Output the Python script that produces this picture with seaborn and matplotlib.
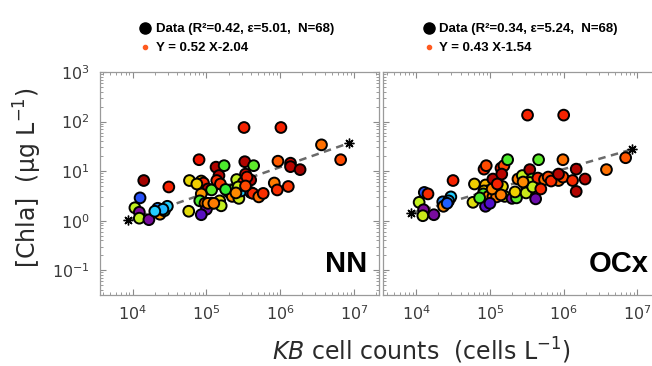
import numpy as np
import pandas as pd
import matplotlib
matplotlib.use("Agg")
import matplotlib.pyplot as plt
from matplotlib.colors import LinearSegmentedColormap
from matplotlib.lines import Line2D
import seaborn as sns

# values (log10 units), colour value 0 = purple ... 1 = dark red
nn_logx = [4.15, 4.49, 4.10, 4.03, 4.09, 4.09, 4.22, 4.34, 4.37, 4.43,
           4.47, 4.41, 4.77, 4.76, 4.90, 4.93, 4.96, 5.02, 5.07, 4.93,
           4.91, 4.98, 5.07, 5.00, 4.93, 5.18, 5.20, 5.13, 5.24, 5.17,
           5.14, 5.19, 5.30, 5.36, 5.35, 5.41, 5.44, 5.47, 5.52, 5.51,
           5.53, 5.53, 5.50, 5.60, 5.64, 5.60, 5.63, 5.71, 5.77, 5.92,
           5.96, 6.11, 5.97, 6.01, 6.14, 6.14, 6.27, 6.56, 6.82, 5.02,
           5.10, 4.87, 5.26, 5.43, 5.55, 5.40, 4.30, 5.53]
nn_logy = [0.81, 0.68, 0.46, 0.26, 0.17, 0.05, 0.02, 0.25, 0.13, 0.20,
           0.29, 0.23, 0.81, 0.19, 1.23, 0.80, 0.76, 0.64, 0.62, 0.54,
           0.40, 0.35, 0.35, 0.23, 0.12, 0.40, 0.30, 1.08, 1.11, 0.91,
           0.81, 0.74, 0.58, 0.62, 0.49, 0.83, 0.45, 0.60, 1.19, 1.88,
           0.94, 0.81, 0.77, 0.82, 1.11, 0.57, 0.55, 0.48, 0.55, 0.76,
           0.62, 0.69, 1.20, 1.88, 1.16, 1.09, 1.03, 1.53, 1.23, 0.35,
           0.35, 0.74, 0.63, 0.68, 0.88, 0.56, 0.19, 0.70]
nn_col = [0.97, 0.86, 0.18, 0.50, 0.02, 0.50, 0.03, 0.24, 0.68, 0.42,
          0.30, 0.28, 0.58, 0.57, 0.88, 0.64, 0.85, 0.95, 0.43, 0.68,
          0.42, 0.72, 0.72, 0.05, 0.08, 0.58, 0.50, 0.96, 0.42, 0.95,
          0.84, 0.83, 0.06, 0.44, 0.70, 0.50, 0.52, 0.30, 0.96, 0.86,
          0.94, 0.45, 0.86, 0.95, 0.43, 0.05, 0.85, 0.74, 0.84, 0.72,
          0.84, 0.83, 0.77, 0.86, 0.94, 0.95, 0.97, 0.74, 0.80, 0.70,
          0.72, 0.60, 0.40, 0.52, 0.85, 0.70, 0.30, 0.80]

ocx_logx = [5.51, 6.00, 4.11, 4.16, 4.04, 4.10, 4.09, 4.24, 4.50, 4.36,
            4.37, 4.47, 4.44, 4.79, 4.77, 4.92, 4.95, 4.94, 4.97, 4.92,
            4.91, 4.98, 5.04, 5.09, 4.94, 5.00, 5.04, 5.15, 5.19, 5.16,
            5.24, 5.17, 5.20, 5.30, 5.36, 5.38, 5.44, 5.50, 5.55, 5.49,
            5.54, 5.57, 5.54, 5.62, 5.66, 5.65, 5.74, 5.79, 5.93, 5.99,
            5.99, 6.12, 6.17, 6.29, 6.17, 6.58, 6.84, 5.03, 5.10, 5.34,
            5.58, 5.45, 4.86, 5.83, 4.42, 5.69, 5.15, 5.93]
ocx_logy = [2.13, 2.13, 0.57, 0.54, 0.37, 0.22, 0.10, 0.12, 0.81, 0.38,
            0.29, 0.48, 0.40, 0.74, 0.37, 1.04, 1.11, 0.72, 0.60, 0.60,
            0.54, 0.49, 0.48, 0.48, 0.29, 0.35, 0.84, 1.06, 1.11, 0.94,
            1.23, 0.69, 0.49, 0.45, 0.46, 0.84, 0.91, 0.65, 0.65, 0.56,
            1.03, 0.84, 0.77, 0.44, 1.23, 0.86, 0.83, 0.88, 0.81, 0.88,
            1.23, 0.81, 1.04, 0.84, 0.59, 1.03, 1.27, 0.64, 0.74, 0.58,
            0.68, 0.78, 0.46, 0.80, 0.35, 0.64, 0.52, 0.94]
ocx_col = [0.86, 0.86, 0.18, 0.85, 0.50, 0.02, 0.52, 0.03, 0.86, 0.24,
           0.70, 0.30, 0.28, 0.60, 0.56, 0.85, 0.80, 0.64, 0.85, 0.60,
           0.42, 0.70, 0.72, 0.72, 0.08, 0.09, 0.96, 0.86, 0.80, 0.95,
           0.42, 0.58, 0.50, 0.05, 0.43, 0.72, 0.50, 0.84, 0.95, 0.52,
           0.96, 0.44, 0.50, 0.05, 0.43, 0.85, 0.74, 0.80, 0.74, 0.80,
           0.74, 0.85, 0.96, 0.95, 0.96, 0.74, 0.78, 0.70, 0.86, 0.60,
           0.50, 0.70, 0.42, 0.84, 0.20, 0.85, 0.72, 0.95]

nn_fit = (0.52, -2.04)
ocx_fit = (0.43, -1.54)
nn_stats = (0.42, 5.01, 68)
ocx_stats = (0.34, 5.24, 68)
fit_logx = np.array([3.93, 6.93])

cmap = LinearSegmentedColormap.from_list("season", [
    "#8a0a8a", "#4a10d0", "#1f5fff", "#22d0ff", "#30ea30", "#c0f020",
    "#f0d000", "#ff8a00", "#ff4a00", "#f00a00", "#880000"])

sns.set_style("ticks")
plt.rcParams["font.family"] = ["DejaVu Sans"]
plt.rcParams["xtick.direction"] = "in"
plt.rcParams["ytick.direction"] = "in"

fig = plt.figure(figsize=(6.52, 3.66), dpi=100)

panels = [
    ("NN", nn_logx, nn_logy, nn_col, nn_fit, nn_stats, 99.5),
    ("OCx", ocx_logx, ocx_logy, ocx_col, ocx_fit, ocx_stats, 383),
]

for name, lx, ly, col, fit, stats, x0 in panels:
    ax = fig.add_axes([x0 / 652, 71 / 366, 279.5 / 652, 223 / 366])
    df = pd.DataFrame({"kb": 10 ** np.array(lx), "chla": 10 ** np.array(ly), "c": col})

    a, b = fit
    line = pd.DataFrame({"kb": 10 ** fit_logx, "chla": 10 ** (a * fit_logx + b)})
    sns.lineplot(data=line, x="kb", y="chla", ax=ax, color="#6a6a6a",
                 linewidth=1.8, dashes=False, linestyle=(0, (3, 2.2)),
                 marker=(8, 2, 0), markersize=7, markeredgecolor="black",
                 markeredgewidth=1.0, zorder=2)
    sns.scatterplot(data=df, x="kb", y="chla", hue="c", palette=cmap,
                    hue_norm=(0, 1), s=60, edgecolor="black", linewidth=1.4,
                    legend=False, ax=ax, zorder=3)

    ax.set_xscale("log")
    ax.set_yscale("log")
    ax.set_xlim(10 ** 3.55, 10 ** 7.34)
    ax.set_ylim(10 ** -1.5, 10 ** 3)
    ax.set_xlabel("")
    ax.set_ylabel("")
    for sp in ax.spines.values():
        sp.set_color("#9a9a9a")
        sp.set_linewidth(0.9)
    ax.tick_params(which="both", top=True, right=True, color="#8a8a8a")
    ax.tick_params(which="major", length=4, width=0.8, labelsize=11.5,
                   labelcolor="#3a3a3a", pad=7)
    ax.tick_params(which="minor", length=2, width=0.6)
    if name == "OCx":
        ax.tick_params(axis="y", which="both", labelleft=False)
        ax.text(0.95, 0.103, name, transform=ax.transAxes, ha="right",
                va="baseline", fontsize=21, fontweight="bold", color="black",
                family="Liberation Sans")
    else:
        ax.text(0.957, 0.103, name, transform=ax.transAxes, ha="right",
                va="baseline", fontsize=21, fontweight="bold", color="black",
                family="Liberation Sans")

    r2, eps, n = stats
    handles = [
        Line2D([], [], marker="o", linestyle="none", color="black", markersize=8),
        Line2D([], [], marker="o", linestyle="none", color="#ff5a1f", markersize=3),
    ]
    labels = [f"Data (R\u00b2={r2:.2f}, \u03b5={eps:.2f},  N={n})",
              f"Y = {a:.2f} X{b:.2f}"]
    leg = ax.legend(handles, labels, loc="lower left", bbox_to_anchor=(0.145, 1.08),
                    frameon=False, borderpad=0, borderaxespad=0, handlelength=0.8,
                    handletextpad=0.4, labelspacing=0.5,
                    prop={"family": "Liberation Sans", "weight": "bold", "size": 9.5})
    for t in leg.get_texts():
        t.set_color("black")

fig.text(28 / 652, 1 - 178 / 366, "[Chla]  (\u03bcg L$^{-1}$)", rotation=90,
         ha="center", va="center", fontsize=17, color="#2a2a2a")
fig.text(421 / 652, 1 - 351 / 366, "$\\it{KB}$ cell counts  (cells L$^{-1}$)",
         ha="center", va="center", fontsize=17, color="#2a2a2a")

fig.savefig("out.png", dpi=100)
